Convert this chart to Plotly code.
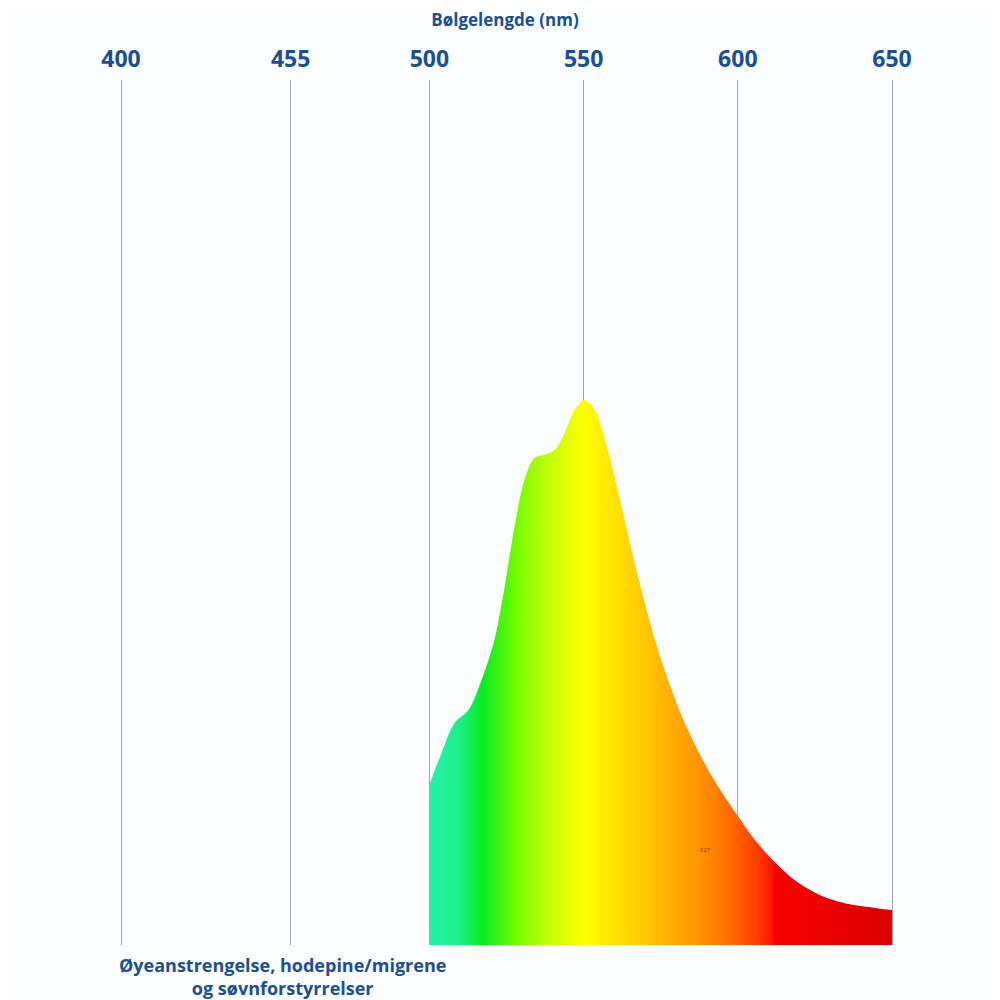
import plotly.graph_objects as go

# spectrum (relative intensity, peak = 100)
wavelength = [500.0, 503.9, 508.1, 512.7, 516.9, 521.1, 524.4, 527.6, 530.8, 534.1, 537.3,
              540.6, 543.8, 547.1, 550.3, 553.6, 558.1, 562.3, 567.9, 573.1, 577.6, 581.8,
              587.3, 592.5, 599.7, 605.5, 612.0, 618.5, 627.3, 636.0, 644.5, 650.0]
intensity = [29.4, 35.2, 40.7, 43.1, 48.6, 56.0, 65.7, 76.7, 85.3, 89.4, 89.9,
             90.8, 93.9, 98.2, 100.0, 98.2, 90.3, 80.4, 67.0, 56.0, 48.3, 42.0,
             35.4, 30.1, 23.9, 19.3, 15.2, 11.9, 9.0, 7.5, 6.8, 6.4]

tick_values = [400, 455, 500, 550, 600, 650]
axis_title = "Bølgelengde (nm)"
bottom_note = "Øyeanstrengelse, hodepine/migrene<br>og søvnforstyrrelser"
small_mark = "E27"

spectrum_colors = [
    [0.00, "#22f2a8"],
    [0.06, "#1ef08c"],
    [0.116, "#08ec20"],
    [0.19, "#78fc00"],
    [0.26, "#c4ff0a"],
    [0.334, "#ffff00"],
    [0.435, "#ffd400"],
    [0.506, "#ffb600"],
    [0.58, "#ff9600"],
    [0.65, "#ff6c00"],
    [0.709, "#ff3c00"],
    [0.737, "#ff1800"],
    [0.748, "#f80000"],
    [1.00, "#dc0000"],
]

blue = "#1a4f96"

fig = go.Figure()
fig.add_trace(go.Scatter(
    x=wavelength, y=intensity, mode="lines",
    line=dict(width=0, shape="spline", smoothing=0.9),
    fill="tozeroy",
    fillgradient=dict(type="horizontal", colorscale=spectrum_colors),
    hoverinfo="skip", showlegend=False,
))

# page body has an 8px margin, so the figure is shifted by it
fig.update_layout(
    width=984, height=992,
    margin=dict(l=92, r=72, t=72, b=55),
    paper_bgcolor="#fcfdfe", plot_bgcolor="#fcfdfe",
    font=dict(family="Open Sans", color=blue),
    title=dict(text="<b>" + axis_title + "</b>", x=497 / 984, xanchor="center",
               y=1 - 12 / 992, yanchor="middle", yref="container",
               font=dict(size=17, color=blue, family="Open Sans")),
    annotations=[
        dict(text="<b>" + bottom_note + "</b>", xref="x", x=452.5,
             yref="paper", y=0.0, yanchor="top", yshift=-6, showarrow=False,
             font=dict(size=18, color=blue, family="Open Sans"), align="center"),
        dict(text=small_mark, xref="x", x=589.5, yref="y", y=17.4, showarrow=False,
             font=dict(size=6, color="#8a4a00")),
    ],
)
fig.update_xaxes(
    side="top", range=[393.19, 659.08],
    tickvals=tick_values, ticktext=["<b>%d</b>" % v for v in tick_values],
    tickfont=dict(size=23, color=blue, family="Open Sans"),
    ticks="", ticklabelstandoff=7,
    showgrid=True, gridcolor="#a4a4a4", gridwidth=1,
    zeroline=False, showline=False, fixedrange=True,
)
fig.update_yaxes(range=[0, 158.7], visible=False, showgrid=False, zeroline=False)

fig.write_html("out.html")
